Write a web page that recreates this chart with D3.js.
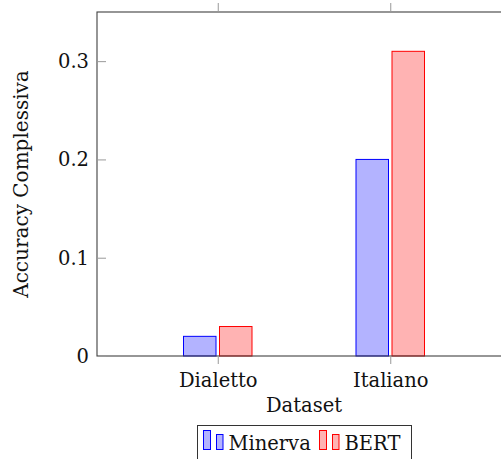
<!DOCTYPE html>
<html>
<head>
<meta charset="utf-8">
<script src="https://cdn.jsdelivr.net/npm/d3@7"></script>
<style>
  body { margin: 0; background: #fff; }
  svg { display: block; font-family: "DejaVu Serif", serif; }
</style>
</head>
<body>
<div id="chart"></div>
<script>
// chart data
const categories = ["Dialetto", "Italiano"];
const seriesNames = ["Minerva", "BERT"];
const minervaValues = [0.02, 0.2];
const bertValues = [0.03, 0.31];
const yTicks = [0, 0.1, 0.2, 0.3];

const width = 501;
const height = 459;

const dimensions = {
  margin: { top: 12, left: 97 },
  boundedWidth: 414,
  boundedHeight: 344,
};

const fills = ["#b3b3ff", "#ffb3b3"];
const strokes = ["#0000ff", "#ff0000"];

const svg = d3
  .select("#chart")
  .append("svg")
  .attr("width", width)
  .attr("height", height);

const bounds = svg
  .append("g")
  .attr("transform", `translate(${dimensions.margin.left},${dimensions.margin.top})`);

const xScale = d3
  .scalePoint()
  .domain(categories)
  .range([0, dimensions.boundedWidth])
  .padding(0.7);

const yScale = d3
  .scaleLinear()
  .domain([0, 0.35])
  .range([dimensions.boundedHeight, 0]);

// bars
const barWidth = 32.5;
const offsets = [-18, 18];
const series = [minervaValues, bertValues];

series.forEach((values, si) => {
  bounds
    .append("g")
    .selectAll("rect")
    .data(values)
    .enter()
    .append("rect")
    .attr("x", (d, i) => xScale(categories[i]) + offsets[si] - barWidth / 2)
    .attr("y", (d) => yScale(d))
    .attr("width", barWidth)
    .attr("height", (d) => yScale(0) - yScale(d))
    .attr("fill", fills[si])
    .attr("stroke", strokes[si])
    .attr("stroke-width", 1);
});

// frame
bounds
  .append("rect")
  .attr("x", 0)
  .attr("y", 0)
  .attr("width", dimensions.boundedWidth)
  .attr("height", dimensions.boundedHeight)
  .attr("fill", "none")
  .attr("stroke", "#404040")
  .attr("stroke-width", 1.1);

// y axis (ticks inward)
const yAxis = bounds
  .append("g")
  .call(d3.axisRight(yScale).tickValues(yTicks).tickSize(9).tickFormat(""));
yAxis.select(".domain").remove();
yAxis.selectAll("line").attr("stroke", "#999");

bounds
  .append("g")
  .selectAll("text")
  .data(yTicks)
  .enter()
  .append("text")
  .attr("x", -8)
  .attr("y", (d) => yScale(d))
  .attr("dy", "0.35em")
  .attr("text-anchor", "end")
  .attr("font-size", "19.5px")
  .attr("fill", "#111")
  .text((d) => (d === 0 ? "0" : d3.format(".1f")(d)));

// x axis, bottom and top (ticks outward)
const xAxis = bounds
  .append("g")
  .attr("transform", `translate(0,${dimensions.boundedHeight})`)
  .call(d3.axisBottom(xScale).tickSize(8).tickPadding(9));
xAxis.select(".domain").remove();
xAxis.selectAll("line").attr("stroke", "#999");
xAxis
  .selectAll("text")
  .attr("font-size", "19.5px")
  .attr("font-family", "DejaVu Serif, serif")
  .attr("fill", "#111");

const xTop = bounds
  .append("g")
  .call(d3.axisTop(xScale).tickSize(9).tickFormat(""));
xTop.select(".domain").remove();
xTop.selectAll("line").attr("stroke", "#999");

// axis titles
svg
  .append("text")
  .attr("transform", `translate(28,184) rotate(-90)`)
  .attr("text-anchor", "middle")
  .attr("font-size", "20px")
  .attr("fill", "#111")
  .text("Accuracy Complessiva");

svg
  .append("text")
  .attr("x", 304)
  .attr("y", 412)
  .attr("text-anchor", "middle")
  .attr("font-size", "19.5px")
  .attr("fill", "#111")
  .text("Dataset");

// legend
const legend = svg.append("g").attr("transform", "translate(197.5,425.5)");
legend
  .append("rect")
  .attr("width", 214)
  .attr("height", 40)
  .attr("fill", "#fff")
  .attr("stroke", "#333")
  .attr("stroke-width", 1);

const legendX = [6, 122];
seriesNames.forEach((name, si) => {
  const g = legend.append("g").attr("transform", `translate(${legendX[si]},0)`);
  g.append("rect")
    .attr("x", 0)
    .attr("y", 5)
    .attr("width", 7)
    .attr("height", 19)
    .attr("fill", fills[si])
    .attr("stroke", strokes[si]);
  g.append("rect")
    .attr("x", 13)
    .attr("y", 9)
    .attr("width", 6.5)
    .attr("height", 15)
    .attr("fill", fills[si])
    .attr("stroke", strokes[si]);
  g.append("text")
    .attr("x", 25)
    .attr("y", 24)
    .attr("font-size", "19.5px")
    .attr("fill", "#111")
    .text(name);
});
</script>
</body>
</html>
